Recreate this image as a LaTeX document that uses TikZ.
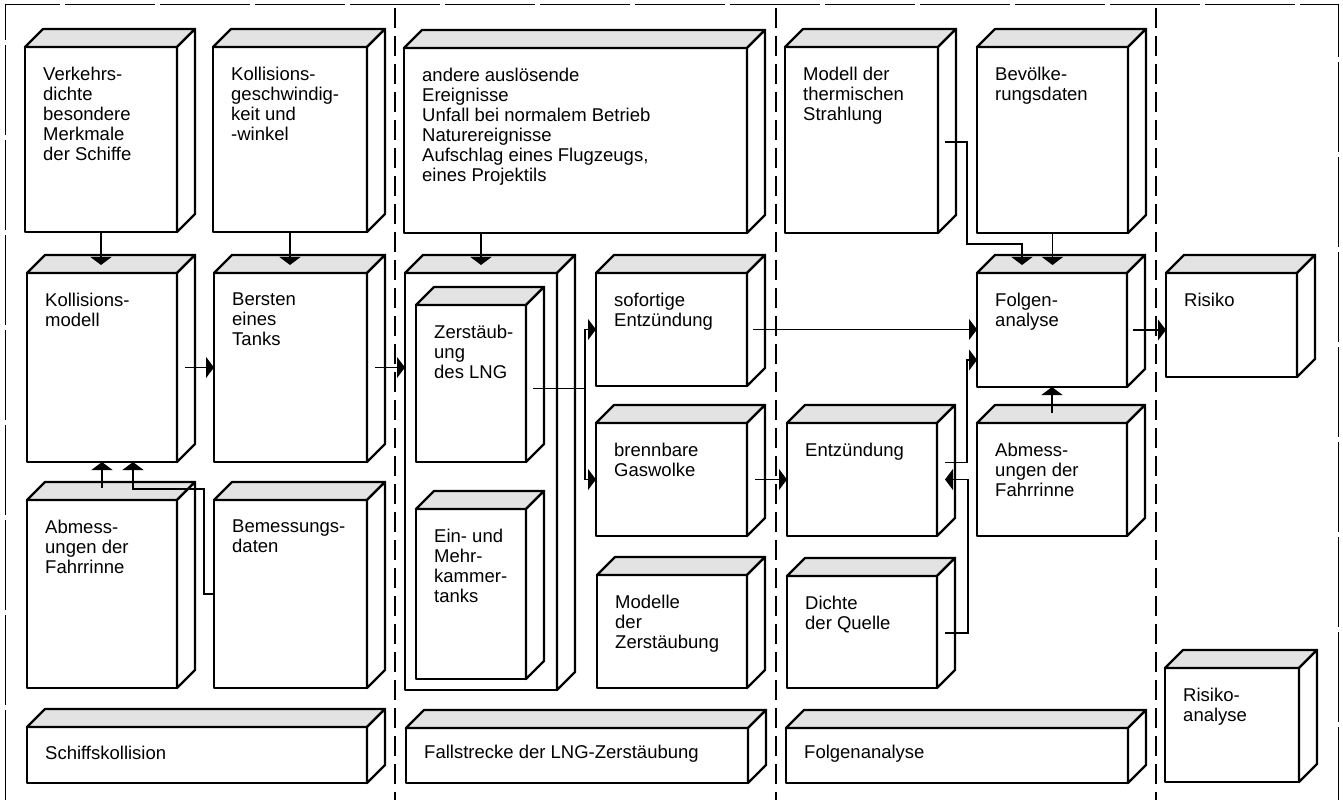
\documentclass[tikz,border=0pt]{standalone}
\usepackage{fontspec}
\setmainfont{Liberation Sans}
\usetikzlibrary{calc,arrows.meta}
\tikzset{
 face/.style={draw=black, line width=2.4pt, line join=round},
 front/.style={face, fill=white, rectangle, inner sep=0pt, outer sep=0pt, anchor=north west},
 topface/.style={face, fill=black!11},
 sideface/.style={face, fill=white},
 lbl/.style={anchor=north west, inner sep=0pt, align=left, font=\fontsize{18.5}{20}\selectfont},
 barlbl/.style={anchor=west, inner sep=0pt, font=\fontsize{18.5}{20}\selectfont},
 conn/.style={line width=1.3pt},
 arr/.style={conn, -{Triangle[width=21pt,length=8pt]}},
 divider/.style={line width=1.3pt, dash pattern=on 20pt off 8pt},
 frameline/.style={line width=1pt, dash pattern=on 90pt off 5pt},
}
\newcommand\lngbox[6]{%
 \node[front, minimum width=#4pt, minimum height=#5pt] (#1) at (#2,#3) {};
 \path[topface] (#1.north west) -- ++(18,-18) -- ($(#1.north east)+(18,-18)$) -- (#1.north east) -- cycle;
 \path[sideface] (#1.north east) -- ++(18,-18) -- ($(#1.south east)+(18,-18)$) -- (#1.south east) -- cycle;
 \node[lbl] (#1-t) at ($(#1.north west)+(18,20)$) {#6};
}
\newcommand\lngbar[6]{%
 \node[front, minimum width=#4pt, minimum height=#5pt] (#1) at (#2,#3) {};
 \path[topface] (#1.north west) -- ++(18,-18) -- ($(#1.north east)+(18,-18)$) -- (#1.north east) -- cycle;
 \path[sideface] (#1.north east) -- ++(18,-18) -- ($(#1.south east)+(18,-18)$) -- (#1.south east) -- cycle;
 \node[barlbl] (#1-t) at ($(#1.west)+(18,-2)$) {#6};
}
\begin{document}
\begin{tikzpicture}[x=1pt,y=-1pt]
\useasboundingbox (0,0) rectangle (1343,802);
% frame and dividers
\draw[frameline] (5,800) -- (5,5) -- (1338,5) -- (1338,800);
\draw[divider] (395,8) -- (395,800);
\draw[divider] (776,8) -- (776,800);
\draw[divider] (1156,8) -- (1156,800);
% row 1
\lngbox{verk}{25}{47}{152}{185}{Verkehrs-\\dichte\\besondere\\Merkmale\\der Schiffe}
\lngbox{kgw}{213}{47}{154}{185}{Kollisions-\\geschwindig-\\keit und\\-winkel}
\lngbox{andere}{404}{48}{343}{185}{andere auslösende\\Ereignisse\\Unfall bei normalem Betrieb\\Naturereignisse\\Aufschlag eines Flugzeugs,\\eines Projektils}
\lngbox{therm}{785}{47}{153}{186}{Modell der\\thermischen\\Strahlung}
\lngbox{bev}{977}{47}{151}{186}{Bevölke-\\rungsdaten}
% row 2
\lngbox{kmod}{27}{273}{150}{189}{Kollisions-\\modell}
\lngbox{bersten}{214}{273}{153}{189}{Bersten\\eines\\Tanks}
\lngbox{lng}{405}{273}{152}{417}{}
\lngbox{zer}{416}{305}{110}{157}{Zerstäub-\\ung\\des LNG}
\lngbox{ein}{416}{509}{110}{170}{Ein- und\\Mehr-\\kammer-\\tanks}
\lngbox{sof}{596}{273}{151}{113}{sofortige\\Entzündung}
\lngbox{gas}{596}{423}{151}{113}{brennbare\\Gaswolke}
\lngbox{modz}{597}{575}{150}{113}{Modelle\\der\\Zerstäubung}
\lngbox{folg}{977}{273}{150}{114}{Folgen-\\analyse}
\lngbox{risiko}{1166}{273}{131}{104}{Risiko}
% row 3
\lngbox{abm1}{27}{500}{150}{188}{Abmess-\\ungen der\\Fahrrinne}
\lngbox{bem}{214}{500}{153}{188}{Bemessungs-\\daten}
\lngbox{entz}{787}{423}{150}{113}{Entzündung}
\lngbox{abm2}{977}{423}{150}{113}{Abmess-\\ungen der\\Fahrrinne}
\lngbox{dichte}{787}{576}{150}{112}{Dichte\\der Quelle}
\lngbox{risan}{1165}{668}{134}{114}{Risiko-\\analyse}
% bars
\lngbar{bar1}{27}{727}{340}{56}{Schiffskollision}
\lngbar{bar2}{406}{728}{342}{55}{Fallstrecke der LNG-Zerstäubung}
\lngbar{bar3}{786}{728}{342}{55}{Folgenanalyse}
% connectors
\draw[arr] (verk.south) -- ($(verk.south |- kmod.north)+(0,-8)$);
\draw[arr] (kgw.south) -- ($(kgw.south |- bersten.north)+(0,-8)$);
\draw[arr] (lng.north |- andere.south) -- ($(lng.north)+(0,-8)$);
\draw[arr] ($(kmod.east)+(8,0)$) -- (bersten.west);
\draw[arr] ($(bersten.east)+(8,0)$) -- (lng.west |- bersten.east);
\draw[arr] ($(abm1.north)+(0,-12)$) -- (kmod.south);
\draw[arr] (bem.west) -- ++(-10,0) |- ($(kmod.south)+(31,27)$) -- ($(kmod.south)+(31,0)$);
\coordinate (split) at ($(zer.east)+(59,5)$);
\draw[conn] ($(zer.east)+(7,5)$) -- (split);
\draw[arr] (split) |- (sof.west);
\draw[arr] (split) |- (gas.west);
\draw[arr] ($(sof.east)+(6,0)$) -- (folg.west |- sof.east);
\draw[arr] ($(folg.east)+(6,0)$) -- (risiko.west |- folg.east);
\draw[arr] ($(gas.east)+(8,0)$) -- (entz.west);
\draw[arr] ($(entz.east)+(8,-17)$) -- ++(22,0) |- ($(folg.west)+(0,30)$);
\draw[arr] ($(dichte.east)+(8,1)$) -- ++(23,0) |- ($(entz.east)+(8,0)$);
\draw[arr] ($(therm.east)+(7,2)$) -- ++(22,0) |- ($(folg.north)+(-30,-29)$) -- ($(folg.north)+(-30,-8)$);
\draw[arr] (bev.south) -- ($(bev.south |- folg.north)+(0,-8)$);
\draw[arr] ($(abm2.north)+(0,-10)$) -- (folg.south);
\end{tikzpicture}
\end{document}
